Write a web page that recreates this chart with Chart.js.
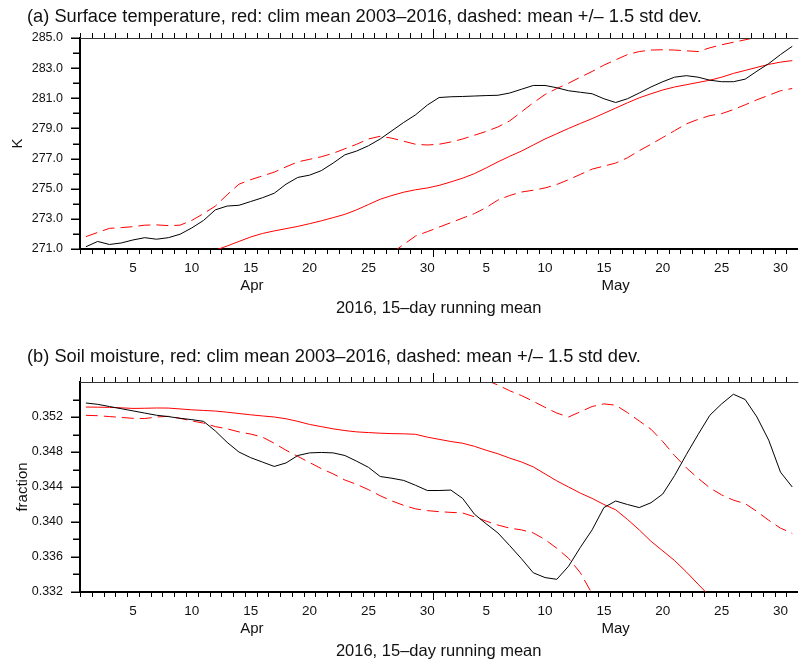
<!DOCTYPE html>
<html>
<head>
<meta charset="utf-8">
<script src="https://cdn.jsdelivr.net/npm/chart.js@4.4.1/dist/chart.umd.min.js"></script>
<style>
  html, body { margin: 0; padding: 0; background: #fff; overflow: hidden; }
  canvas { position: absolute; left: 0; }
</style>
</head>
<body>
<canvas id="tempChart" style="top:0px"></canvas>
<canvas id="soilChart" style="top:330px"></canvas>
<script>
// days since Mar 31 (1 = Apr 1, 61 = May 31)
const days = Array.from({ length: 61 }, (_, i) => i + 1)
const dayTickValues = [5, 10, 15, 20, 25, 30, 35, 40, 45, 50, 55, 60]
const dayTickLabels = ['5', '10', '15', '20', '25', '30', '5', '10', '15', '20', '25', '30']
const monthLabels = ['Apr', 'May']
const monthCenters = [15.1, 46]

// (a) surface temperature, K
const tempTicks = [271, 273, 275, 277, 279, 281, 283, 285]
const tempMinorTicks = [272, 274, 276, 278, 280, 282, 284]
const temp2016 = [271.15, 271.5, 271.3, 271.4, 271.6, 271.75, 271.65, 271.75, 271.98, 272.4,
	272.9, 273.6, 273.85, 273.9, 274.15, 274.4, 274.7, 275.3, 275.75, 275.9,
	276.2, 276.7, 277.25, 277.5, 277.85, 278.3, 278.85, 279.4, 279.9, 280.55,
	281.05, 281.1, 281.12, 281.15, 281.18, 281.2, 281.35, 281.6, 281.85, 281.85,
	281.7, 281.5, 281.4, 281.3, 280.97, 280.72, 280.97, 281.35, 281.75, 282.1,
	282.4, 282.5, 282.4, 282.2, 282.1, 282.1, 282.27, 282.8, 283.3, 283.9,
	284.45]
const tempClim = [null, null, null, null, null, null, null, null, null, null,
	270.65, 270.92, 271.2, 271.5, 271.8, 272.03, 272.2, 272.35, 272.5, 272.68,
	272.87, 273.08, 273.3, 273.6, 273.95, 274.3, 274.55, 274.77, 274.93, 275.05,
	275.22, 275.45, 275.7, 276.0, 276.38, 276.78, 277.15, 277.5, 277.9, 278.3,
	278.65, 279.0, 279.33, 279.65, 280.0, 280.35, 280.7, 281.03, 281.3, 281.55,
	281.75, 281.9, 282.05, 282.2, 282.4, 282.65, 282.85, 283.05, 283.25, 283.4,
	283.5]
const tempUpper = [271.82, 272.1, 272.37, 272.42, 272.48, 272.58, 272.6, 272.55, 272.58, 272.9,
	273.35, 273.85, 274.6, 275.3, 275.6, 275.85, 276.1, 276.45, 276.78, 276.95,
	277.12, 277.35, 277.65, 277.95, 278.3, 278.48, 278.35, 278.15, 277.95, 277.9,
	277.95, 278.1, 278.3, 278.55, 278.8, 279.1, 279.5, 280.1, 280.7, 281.25,
	281.65, 282.0, 282.4, 282.78, 283.2, 283.55, 283.9, 284.1, 284.2, 284.22,
	284.2, 284.15, 284.1, 284.35, 284.55, 284.72, 284.88, 285.05, null, null,
	null]
const tempLower = [null, null, null, null, null, null, null, null, null, null,
	null, null, null, null, null, null, null, null, null, null,
	null, null, null, null, null, null, 270.75, 271.3, 271.86, 272.15,
	272.45, 272.75, 273.05, 273.35, 273.75, 274.25, 274.55, 274.78, 274.9, 275.05,
	275.28, 275.6, 275.95, 276.3, 276.5, 276.7, 277.05, 277.52, 277.95, 278.4,
	278.85, 279.3, 279.6, 279.85, 279.98, 280.25, 280.57, 280.9, 281.2, 281.5,
	281.65]

// (b) soil moisture, fraction
const soilTicks = [0.332, 0.336, 0.340, 0.344, 0.348, 0.352]
const soilMinorTicks = [0.334, 0.338, 0.342, 0.346, 0.350, 0.354]
const soil2016 = [0.3536, 0.35345, 0.3532, 0.35295, 0.3527, 0.35245, 0.3522, 0.35205, 0.35185, 0.3517,
	0.3515, 0.3504, 0.3491, 0.348, 0.34735, 0.34685, 0.34635, 0.34675, 0.3476, 0.3479,
	0.34795, 0.3479, 0.3476, 0.34695, 0.34625, 0.3452, 0.345, 0.34475, 0.3442, 0.3436,
	0.3436, 0.34365, 0.3427, 0.3409, 0.3398, 0.33875, 0.3373, 0.3358, 0.3342, 0.33365,
	0.33345, 0.33495, 0.3371, 0.3391, 0.34165, 0.3424, 0.342, 0.34165, 0.3422, 0.3432,
	0.3453, 0.3477, 0.35, 0.3522, 0.3535, 0.3546, 0.354, 0.352, 0.34935, 0.3457,
	0.344]
const soilClim = [0.35314, 0.35312, 0.3531, 0.35305, 0.35298, 0.353, 0.35303, 0.35302, 0.35292, 0.35282,
	0.35275, 0.35268, 0.35255, 0.3524, 0.35225, 0.35212, 0.352, 0.3518, 0.3515, 0.35115,
	0.3509, 0.35065, 0.35045, 0.3503, 0.35022, 0.35015, 0.3501, 0.35008, 0.35002, 0.3497,
	0.34945, 0.3492, 0.349, 0.34865, 0.3482, 0.3478, 0.3473, 0.34686, 0.3463, 0.3455,
	0.3447, 0.344, 0.3433, 0.3427, 0.342, 0.3414, 0.3403, 0.3391, 0.3378, 0.3367,
	0.3356, 0.3343, 0.3329, 0.3315, null, null, null, null, null, null,
	null]
const soilUpper = [null, null, null, null, null, null, null, null, null, null,
	null, null, null, null, null, null, null, null, null, null,
	null, null, null, null, null, null, null, null, null, null,
	null, null, null, null, 0.3562, 0.35565, 0.355, 0.35445, 0.3538, 0.3531,
	0.35245, 0.352, 0.3526, 0.3532, 0.3535, 0.35335, 0.3525, 0.35155, 0.3506, 0.3492,
	0.3476, 0.3462, 0.345, 0.3439, 0.3431, 0.3425, 0.3421, 0.3412, 0.3402, 0.3393,
	0.3387]
const soilLower = [0.35219, 0.35215, 0.35205, 0.35195, 0.35185, 0.35182, 0.352, 0.35208, 0.35185, 0.35155,
	0.3513, 0.3509, 0.35065, 0.3503, 0.35005, 0.3497, 0.349, 0.3482, 0.3475, 0.3468,
	0.3461, 0.3455, 0.3448, 0.3443, 0.3437, 0.343, 0.3424, 0.3419, 0.3415, 0.3413,
	0.34118, 0.3411, 0.34103, 0.3406, 0.3401, 0.33965, 0.3393, 0.3391, 0.33875, 0.338,
	0.337, 0.33585, 0.3342, 0.3318, null, null, null, null, null, null,
	null, null, null, null, null, null, null, null, null, null,
	null]

const FONT = '"Liberation Sans", Arial, Helvetica, sans-serif'
Chart.defaults.font.family = FONT

// NCL-like tick marks, top frame, month names and titles
const panelDecor = {
	id: 'panelDecor',
	afterDraw(chart, args, opts) {
		const { ctx, chartArea: a, scales: { x, y } } = chart
		ctx.save()

		// top frame line
		ctx.strokeStyle = '#333'
		ctx.lineWidth = 1
		ctx.beginPath()
		ctx.moveTo(a.left, a.top + 0.5)
		ctx.lineTo(a.right + 1, a.top + 0.5)
		ctx.stroke()

		// day ticks on bottom and top (at day boundaries)
		ctx.strokeStyle = '#000'
		for (let k = 0; k <= 61; k++) {
			const v = k + 0.5
			const px = Math.round(x.getPixelForValue(v)) + 0.5
			if (px > a.right + 1) continue
			const big = v === 30.5
			ctx.beginPath()
			ctx.moveTo(px, a.bottom)
			ctx.lineTo(px, a.bottom + (big ? 8 : 5))
			ctx.moveTo(px, a.top)
			ctx.lineTo(px, a.top - (big ? 9 : 5))
			ctx.stroke()
		}

		// y ticks on the left
		ctx.lineWidth = 1.5
		const yTick = (v, len) => {
			const py = Math.round(y.getPixelForValue(v)) + 0.25
			ctx.beginPath()
			ctx.moveTo(a.left, py)
			ctx.lineTo(a.left - len, py)
			ctx.stroke()
		}
		opts.major.forEach((v) => yTick(v, 9))
		opts.minor.forEach((v) => yTick(v, 7))

		ctx.fillStyle = '#111'
		ctx.textBaseline = 'middle'

		// month names
		ctx.textAlign = 'center'
		ctx.font = '15px ' + FONT
		monthLabels.forEach((m, i) => {
			ctx.fillText(m, x.getPixelForValue(monthCenters[i]), a.bottom + 37)
		})

		// x axis title
		ctx.font = '16.5px ' + FONT
		ctx.fillText(opts.xTitle, (a.left + a.right) / 2, a.bottom + 59)

		// panel title
		ctx.textAlign = 'left'
		ctx.font = '18.25px ' + FONT
		ctx.fillText(opts.title, 27, opts.titleY)

		// y axis title
		ctx.translate(opts.yTitleX, (a.top + a.bottom) / 2)
		ctx.rotate(-Math.PI / 2)
		ctx.textAlign = 'center'
		ctx.textBaseline = 'alphabetic'
		ctx.font = '15px ' + FONT
		ctx.fillText(opts.yTitle, 0, 0)

		ctx.restore()
	},
}

function series(values, color, dash) {
	return {
		data: days.map((d, i) => ({ x: d, y: values[i] })),
		borderColor: color,
		borderWidth: 1,
		borderDash: dash,
		pointRadius: 0,
		tension: 0,
		fill: false,
		spanGaps: false,
	}
}

function buildPanel(canvasID, panel) {
	const canvas = document.getElementById(canvasID)
	canvas.width = 799
	canvas.height = panel.height
	const ctx = canvas.getContext('2d')

	return new Chart(ctx, {
		type: 'line',
		data: {
			datasets: [
				series(panel.obs, '#000000', []),
				series(panel.upper, '#ff0000', [12, 6]),
				series(panel.lower, '#ff0000', [12, 6]),
				series(panel.clim, '#ff0000', []),
			],
		},
		plugins: [panelDecor],
		options: {
			responsive: false,
			animation: false,
			devicePixelRatio: 1,
			layout: { padding: { top: panel.areaTop, left: 0, right: 0, bottom: 0 } },
			plugins: {
				legend: { display: false },
				tooltip: { enabled: false },
				panelDecor: {
					title: panel.title,
					titleY: panel.titleY,
					xTitle: '2016, 15\u2013day running mean',
					yTitle: panel.yTitle,
					yTitleX: panel.yTitleX,
					major: panel.yTicks,
					minor: panel.yMinor,
				},
			},
			scales: {
				x: {
					type: 'linear',
					min: 0.5,
					max: 61.43,
					afterBuildTicks: (scale) => {
						scale.ticks = dayTickValues.map((v) => ({ value: v }))
					},
					afterFit: (scale) => {
						scale.height = panel.height - panel.areaBottom
					},
					grid: { display: false, drawTicks: false },
					border: { display: true, color: '#000', width: 2 },
					ticks: {
						padding: 11,
						color: '#111',
						font: { size: 13.5 },
						maxRotation: 0,
						autoSkip: false,
						callback: (value, index) => dayTickLabels[index],
					},
				},
				y: {
					min: panel.yMin,
					max: panel.yMax,
					afterBuildTicks: (scale) => {
						scale.ticks = panel.yTicks.map((v) => ({ value: v }))
					},
					afterFit: (scale) => {
						scale.width = 80
					},
					grid: { display: false, drawTicks: false },
					border: { display: true, color: '#000', width: 2 },
					ticks: {
						padding: 17,
						color: '#111',
						font: { size: 12.5 },
						callback: (value) => Number(value).toFixed(panel.decimals),
					},
				},
			},
		},
	})
}

buildPanel('tempChart', {
	height: 330,
	areaTop: 38,
	areaBottom: 249,
	titleY: 17,
	title: '(a) Surface temperature, red: clim mean 2003\u20132016, dashed: mean +/\u2013 1.5 std dev.',
	yTitle: 'K',
	yTitleX: 22,
	yMin: 271,
	yMax: 285,
	yTicks: tempTicks,
	yMinor: tempMinorTicks,
	decimals: 1,
	obs: temp2016,
	clim: tempClim,
	upper: tempUpper,
	lower: tempLower,
})

buildPanel('soilChart', {
	height: 331,
	areaTop: 52,
	areaBottom: 262,
	titleY: 27,
	title: '(b) Soil moisture, red: clim mean 2003\u20132016, dashed: mean +/\u2013 1.5 std dev.',
	yTitle: 'fraction',
	yTitleX: 27,
	yMin: 0.332,
	yMax: 0.356,
	yTicks: soilTicks,
	yMinor: soilMinorTicks,
	decimals: 3,
	obs: soil2016,
	clim: soilClim,
	upper: soilUpper,
	lower: soilLower,
})
</script>
</body>
</html>
